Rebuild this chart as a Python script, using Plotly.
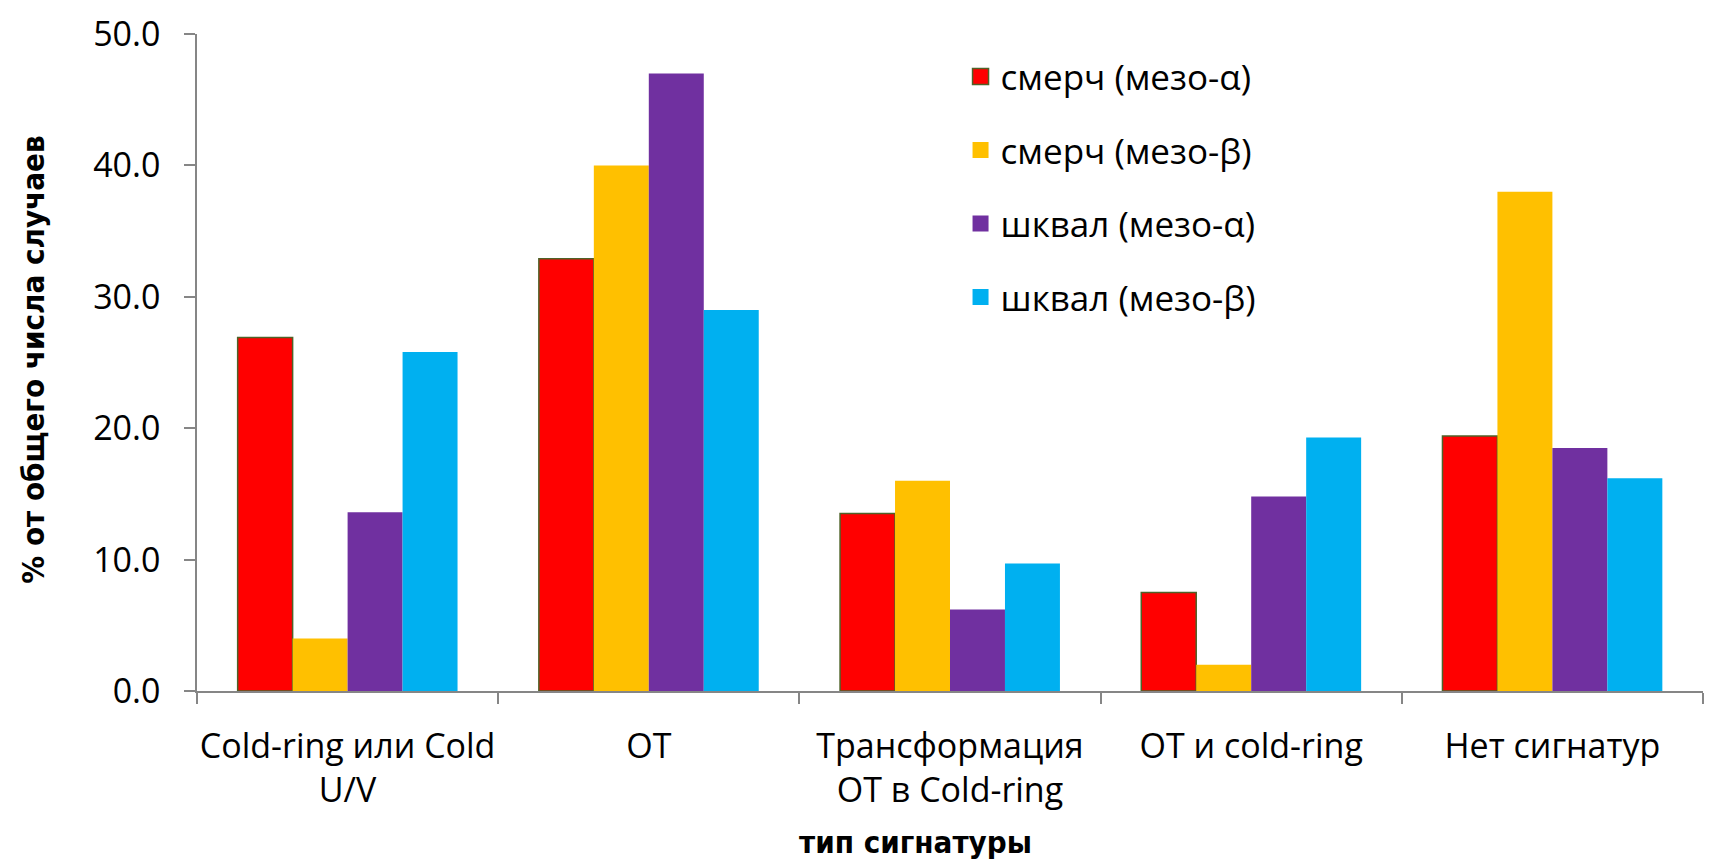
import plotly.graph_objects as go

categories = ["Cold-ring или Cold<br>U/V", "OT", "Трансформация<br>OT в Cold-ring", "OT и cold-ring", "Нет сигнатур"]
series_names = ["смерч (мезо-α)", "смерч (мезо-β)", "шквал (мезо-α)", "шквал (мезо-β)"]
tornado_alpha = [26.9, 32.9, 13.5, 7.5, 19.4]
tornado_beta = [4.0, 40.0, 16.0, 2.0, 38.0]
squall_alpha = [13.6, 47.0, 6.2, 14.8, 18.5]
squall_beta = [25.8, 29.0, 9.7, 19.3, 16.2]
y_ticks = [0, 10, 20, 30, 40, 50]

colors = ["#FF0000", "#FFC000", "#7030A0", "#00B0F0"]
outlines = ["#4F6228", "#FFC000", "#7030A0", "#00B0F0"]
outline_w = [1.5, 0, 0, 0]

fig = go.Figure()
for i, (name, vals) in enumerate(zip(series_names, [tornado_alpha, tornado_beta, squall_alpha, squall_beta])):
    fig.add_trace(go.Bar(
        x=categories, y=vals, name=name, legendgroup=name, showlegend=False,
        marker=dict(color=colors[i], line=dict(color=outlines[i], width=outline_w[i])),
    ))
# legend swatches (bigger squares than the default bar legend symbol)
for i, name in enumerate(series_names):
    fig.add_trace(go.Scatter(
        x=[None], y=[None], mode="markers", name=name, legendgroup=name,
        marker=dict(symbol="square", size=22, color=colors[i],
                    line=dict(color=outlines[i], width=outline_w[i])),
    ))

cond = "DejaVu Sans Condensed, DejaVu Sans"

fig.update_layout(
    width=1717, height=863,
    paper_bgcolor="white", plot_bgcolor="white",
    margin=dict(l=189, r=22, t=26, b=180),
    barmode="group", bargap=0.27, bargroupgap=0,
    font=dict(family="Open Sans", color="#000000"),
    showlegend=True,
    legend=dict(
        x=0.507, y=0.980, xanchor="left", yanchor="top",
        font=dict(size=35, family="Open Sans"),
        tracegroupgap=25, bgcolor="rgba(0,0,0,0)", itemsizing="trace",
    ),
    xaxis=dict(
        showline=True, linecolor="#868686", linewidth=1.5,
        ticks="outside", ticklen=11, tickcolor="#868686", tickwidth=1.5,
        tickson="boundaries", ticklabelstandoff=24, tickangle=0, automargin=False,
        tickfont=dict(size=34, family="Open Sans"),
        showgrid=False,
    ),
    yaxis=dict(
        range=[0, 50], tickvals=y_ticks, tickformat=".1f", automargin=False,
        showline=True, linecolor="#868686", linewidth=1.5,
        ticks="outside", ticklen=11, tickcolor="#868686", tickwidth=1.5,
        ticklabelstandoff=17,
        tickfont=dict(size=34, family="Open Sans"),
        showgrid=False, zeroline=False,
    ),
    annotations=[
        dict(text="тип сигнатуры", xref="paper", yref="paper", x=0.477, y=-0.230,
             xanchor="center", yanchor="middle", showarrow=False,
             font=dict(size=31, family=cond, weight="bold")),
        dict(text="% от общего числа случаев", xref="paper", yref="paper", x=-0.109, y=0.504,
             xanchor="center", yanchor="middle", showarrow=False, textangle=-90,
             font=dict(size=31, family=cond, weight="bold")),
    ],
)

fig.write_html("out.html")
